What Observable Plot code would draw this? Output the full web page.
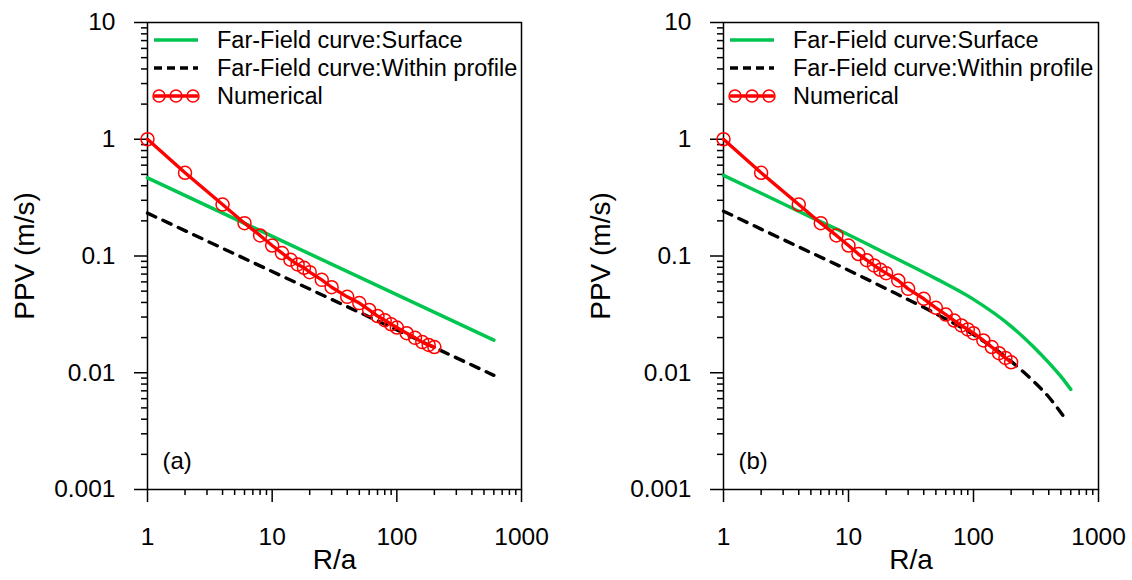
<!DOCTYPE html>
<html>
<head>
<meta charset="utf-8">
<script src="https://cdn.jsdelivr.net/npm/d3@7"></script>
<script src="https://cdn.jsdelivr.net/npm/@observablehq/plot@0.6"></script>
<style>
  html, body { margin: 0; padding: 0; background: #fff; }
  #wrap { display: flex; width: 1132px; height: 580px; }
</style>
</head>
<body>
<div id="wrap"></div>
<script>
// ---------- data ----------
const xTickValues = [1, 10, 100, 1000];
const xTickLabels = ["1", "10", "100", "1000"];
const yTickValues = [0.001, 0.01, 0.1, 1, 10];
const yTickLabels = ["0.001", "0.01", "0.1", "1", "10"];
const minorFactors = [2, 3, 4, 5, 6, 7, 8, 9];

const seriesNames = ["Far-Field curve:Surface", "Far-Field curve:Within profile", "Numerical"];
const panelLabels = ["(a)", "(b)"];

// Numerical (both panels share R/a positions)
const numR = [1, 2, 4, 6, 8, 10, 12, 14, 16, 18, 20, 25, 30, 40, 50, 60, 70, 80, 90, 100, 120, 140, 160, 180, 200];
const numPPV_a = [1.0, 0.516, 0.276, 0.191, 0.150, 0.123, 0.106, 0.093, 0.0846, 0.0793, 0.0727, 0.0625, 0.054, 0.0447, 0.0395, 0.0345, 0.0306, 0.0282, 0.026, 0.0244, 0.0218, 0.0199, 0.0183, 0.0173, 0.0166];
const numPPV_b = [1.0, 0.516, 0.276, 0.191, 0.150, 0.123, 0.104, 0.092, 0.083, 0.0762, 0.0713, 0.0617, 0.0523, 0.043, 0.036, 0.0315, 0.028, 0.0254, 0.0235, 0.0218, 0.0189, 0.0166, 0.0147, 0.0134, 0.0123];

// Far-field curves, panel (a)
const surfR_a = [1, 600];
const surfPPV_a = [0.467, 0.0190];
const withinR_a = [1, 600];
const withinPPV_a = [0.233, 0.0095];

// Far-field curves, panel (b)
const surfR_b = [1, 2, 5, 10, 20, 50, 100, 200, 300, 400, 500, 600];
const surfPPV_b = [0.49, 0.345, 0.215, 0.152, 0.105, 0.064, 0.0425, 0.025, 0.0168, 0.0122, 0.0093, 0.0072];
const withinR_b = [1, 2, 5, 10, 20, 50, 100, 200, 300, 400, 520];
const withinPPV_b = [0.242, 0.17, 0.107, 0.0755, 0.0525, 0.032, 0.0212, 0.0125, 0.0085, 0.0062, 0.0043];

// ---------- helpers ----------
const FONT = "'Liberation Sans', Arial, Helvetica, sans-serif";
const GREEN = "#00c650";
const RED = "#ff0000";

const toRows = (xs, ys) => xs.map((x, i) => ({x, y: ys[i]}));
const minorTicks = (lo, hi) => {
  const out = [];
  for (let d = lo; d < hi; d *= 10) for (const f of minorFactors) out.push(d * f);
  return out;
};

function legendMark() {
  return (index, scales, values, dimensions) => {
    const g = d3.create("svg:g");
    const x0 = dimensions.marginLeft, y0 = dimensions.marginTop;
    const rows = [18, 46, 74];
    g.append("line").attr("x1", x0 + 7).attr("x2", x0 + 51)
      .attr("y1", y0 + rows[0]).attr("y2", y0 + rows[0])
      .attr("stroke", GREEN).attr("stroke-width", 3.5);
    g.append("line").attr("x1", x0 + 7).attr("x2", x0 + 51)
      .attr("y1", y0 + rows[1]).attr("y2", y0 + rows[1])
      .attr("stroke", "black").attr("stroke-width", 3.4).attr("stroke-dasharray", "8,5");
    g.append("line").attr("x1", x0 + 7).attr("x2", x0 + 51)
      .attr("y1", y0 + rows[2]).attr("y2", y0 + rows[2])
      .attr("stroke", RED).attr("stroke-width", 3.4);
    for (const cx of [12, 29, 46]) {
      g.append("circle").attr("cx", x0 + cx).attr("cy", y0 + rows[2]).attr("r", 6)
        .attr("fill", "none").attr("stroke", RED).attr("stroke-width", 1.5);
    }
    seriesNames.forEach((name, i) => {
      g.append("text").attr("x", x0 + 70).attr("y", y0 + rows[i])
        .attr("dy", "0.36em").attr("font-size", 23.5).attr("font-family", FONT)
        .attr("text-anchor", "start").attr("fill", "black").text(name);
    });
    return g.node();
  };
}

function panel({mLeft, mRight, surf, within, num, label}) {
  return Plot.plot({
    width: 566,
    height: 580,
    marginLeft: mLeft,
    marginRight: mRight,
    marginTop: 22,
    marginBottom: 91,
    style: {fontFamily: FONT, fontSize: "24px", color: "black", background: "white", overflow: "visible"},
    x: {type: "log", domain: [1, 1000], axis: null},
    y: {type: "log", domain: [0.001, 10], axis: null},
    marks: [
      // minor ticks
      Plot.axisX({ticks: minorTicks(1, 1000), tickSize: 6, tickFormat: () => "", label: null, strokeWidth: 1.5}),
      Plot.axisY({ticks: minorTicks(0.001, 10), tickSize: 6, tickFormat: () => "", label: null, strokeWidth: 1.5}),
      // major ticks
      Plot.axisX({ticks: xTickValues, tickSize: 13, tickPadding: 25, fontSize: 24.5,
        tickFormat: d => xTickLabels[xTickValues.indexOf(d)], label: null, strokeWidth: 1.5}),
      Plot.axisY({ticks: yTickValues, tickSize: 13, tickPadding: 19, fontSize: 24.5,
        tickFormat: d => yTickLabels[yTickValues.indexOf(d)], label: null, strokeWidth: 1.5}),
      Plot.frame({stroke: "black", strokeWidth: 1.5}),
      // axis titles
      Plot.text(["R/a"], {frameAnchor: "bottom", dy: 79, fontSize: 28, textAnchor: "middle", text: d => d}),
      Plot.text(["PPV (m/s)"], {frameAnchor: "left", dx: -122, rotate: -90, fontSize: 28, textAnchor: "middle", text: d => d}),
      // panel label
      Plot.text([label], {frameAnchor: "bottom-left", dx: 15, dy: -21, textAnchor: "start", fontSize: 24, text: d => d}),
      // curves
      Plot.line(surf, {x: "x", y: "y", stroke: GREEN, strokeWidth: 3.5, curve: "monotone-x"}),
      Plot.line(within, {x: "x", y: "y", stroke: "black", strokeWidth: 3.4, strokeDasharray: "9,8", curve: "monotone-x"}),
      Plot.line(num, {x: "x", y: "y", stroke: RED, strokeWidth: 3.4}),
      Plot.dot(num, {x: "x", y: "y", r: 6.5, stroke: RED, strokeWidth: 1.5, fill: "none"}),
      legendMark()
    ]
  });
}

const wrap = document.getElementById("wrap");
wrap.append(panel({
  mLeft: 147, mRight: 45,
  surf: toRows(surfR_a, surfPPV_a),
  within: toRows(withinR_a, withinPPV_a),
  num: toRows(numR, numPPV_a),
  label: panelLabels[0]
}));
wrap.append(panel({
  mLeft: 157, mRight: 34,
  surf: toRows(surfR_b, surfPPV_b),
  within: toRows(withinR_b, withinPPV_b),
  num: toRows(numR, numPPV_b),
  label: panelLabels[1]
}));
</script>
</body>
</html>
